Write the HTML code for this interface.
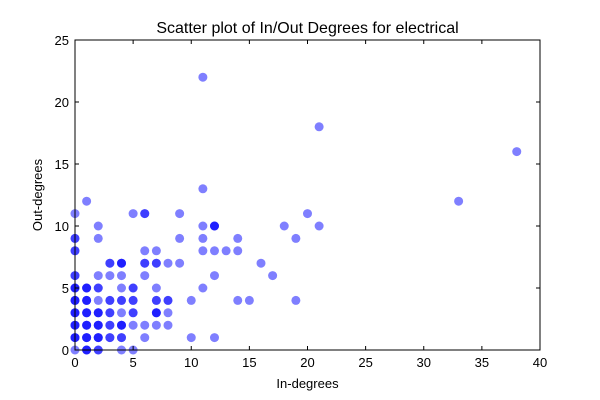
<!DOCTYPE html>
<html><head><meta charset="utf-8"><style>body{margin:0;background:#fff}svg{display:block;font-family:"Liberation Sans",sans-serif}</style></head>
<body>
<svg id="chart" width="600" height="400"></svg>
<script>
const xVals=[0,0,0,0,0,0,0,0,0,0,0,0,0,0,0,0,0,0,0,0,0,0,0,
1,1,1,1,1,1,1,1,1,1,1,1,1,1,1,1,1,1,1,
2,2,2,2,2,2,2,2,2,2,2,2,2,2,2,2,2,
3,3,3,3,3,3,3,3,3,3,3,
4,4,4,4,4,4,4,4,4,4,4,4,4,4,
5,5,5,5,5,5,5,5,5,
6,6,6,6,6,6,6,6,
7,7,7,7,7,7,7,7,7,7,
8,8,8,8,8,
9,9,9,10,10,11,11,11,11,11,11,12,12,12,12,12,12,13,14,14,14,15,16,17,18,19,19,20,21,21,33,38];
const yVals=[11,9,9,8,8,6,6,5,5,5,4,4,4,3,3,3,2,2,2,1,1,1,0,
12,5,5,5,4,4,4,3,3,3,2,2,2,1,1,1,0,0,0,
10,9,6,5,5,4,3,3,3,2,2,2,1,1,1,0,0,
7,7,6,4,4,3,3,2,2,1,1,
7,7,7,6,5,4,4,3,2,2,2,1,1,0,
11,5,5,4,4,3,2,0,3,
11,11,8,7,7,6,2,1,
8,7,7,5,4,4,3,3,3,2,
7,4,4,3,2,
11,9,7,4,1,22,13,10,9,8,5,10,10,10,8,6,1,8,9,8,4,4,7,6,10,9,4,11,18,10,12,16];
const xTicks=[0,5,10,15,20,25,30,35,40];
const yTicks=[0,5,10,15,20,25];
const L=75,R=540,T=40,B=350,XMAX=40,YMAX=25;
const sx=v=>L+v/XMAX*(R-L), sy=v=>B-v/YMAX*(B-T);
const NS="http://www.w3.org/2000/svg", svg=document.getElementById('chart');
function mk(tag,attrs,parent){const e=document.createElementNS(NS,tag);for(const k in attrs)e.setAttribute(k,attrs[k]);(parent||svg).appendChild(e);return e;}
const pts=mk('g',{});


for(let i=0;i<xVals.length;i++){
 const c=mk('circle',{cx:sx(xVals[i]),cy:sy(yVals[i]),r:4.5,fill:'#0000ff','fill-opacity':0.5},pts);
 
 
}
const frame=mk('rect',{x:L,y:T,width:R-L,height:B-T,fill:'none',stroke:'#000','stroke-width':1});


xTicks.forEach(v=>{
 const x=sx(v);
 mk('line',{x1:x,x2:x,y1:B,y2:B-4,stroke:'#000'});
 mk('line',{x1:x,x2:x,y1:T,y2:T+4,stroke:'#000'});
 const t=mk('text',{x:x,y:B+17,'text-anchor':'middle','font-size':13});
 t.textContent=v;
 
 
});
yTicks.forEach(v=>{
 const y=sy(v);
 mk('line',{x1:L,x2:L+4,y1:y,y2:y,stroke:'#000'});
 mk('line',{x1:R,x2:R-4,y1:y,y2:y,stroke:'#000'});
 const t=mk('text',{x:L-6,y:y+5,'text-anchor':'end','font-size':13});
 t.textContent=v;
 
 
});
const title=mk('text',{x:(L+R)/2,y:33,'text-anchor':'middle','font-size':16});
title.textContent='Scatter plot of In/Out Degrees for electrical';


const xl=mk('text',{x:(L+R)/2,y:388,'text-anchor':'middle','font-size':13});
xl.textContent='In-degrees';


const yl=mk('text',{x:0,y:0,'text-anchor':'middle','font-size':13,transform:`translate(42,${(T+B)/2}) rotate(-90)`});
yl.textContent='Out-degrees';


</script>
</body></html>
